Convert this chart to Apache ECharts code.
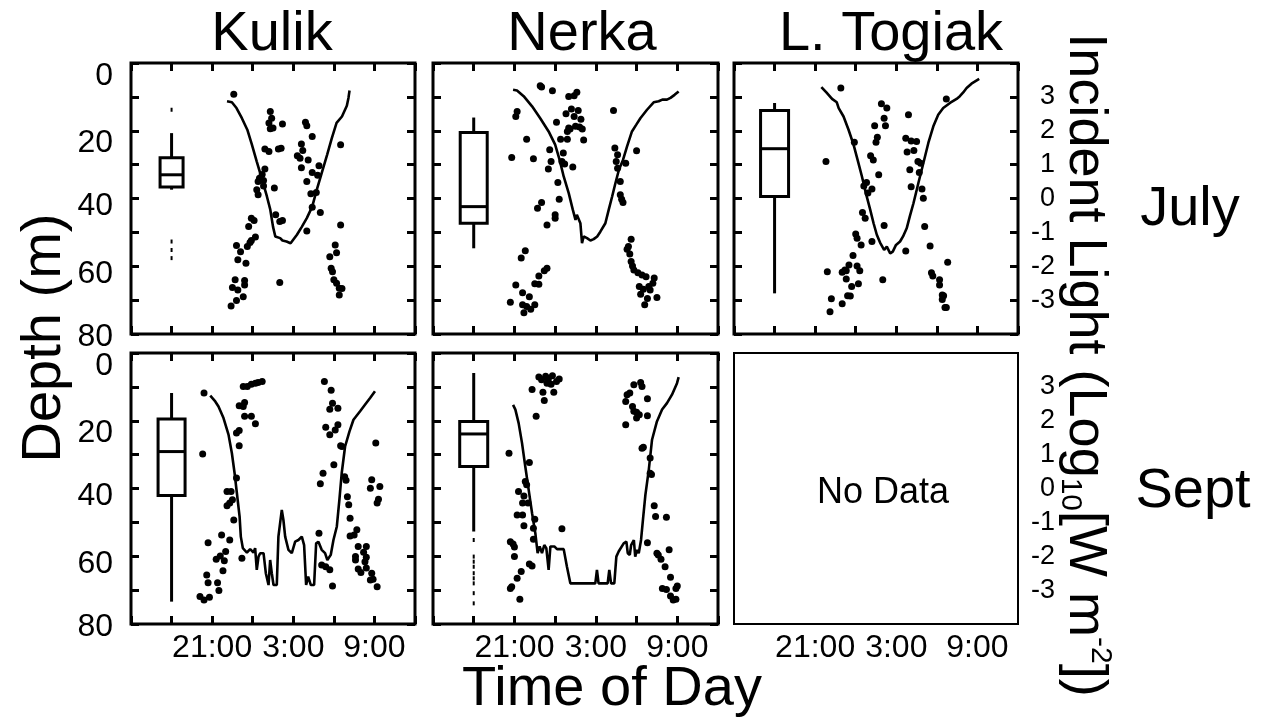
<!DOCTYPE html>
<html lang="en">
<head>
<meta charset="UTF-8">
<title>Depth and incident light</title>
<script src="https://cdn.jsdelivr.net/npm/echarts@6/dist/echarts.min.js"></script>
<style>html,body{margin:0;padding:0;background:#fff}</style>
</head>
<body>
<div id="main" style="width:1268px;height:724px;"></div>
<script type="text/javascript">
    // tick labels
    var depthTicks = [0, 20, 40, 60, 80];
    var lightTicks = [-3, -2, -1, 0, 1, 2, 3];
    var timeTicks = [21, 27, 33];
    var timeLabels = ['21:00', '3:00', '9:00'];
    var lakes = ['Kulik', 'Nerka', 'L. Togiak'];
    var months = ['July', 'Sept'];

    // fish positions: [hour of day (15 = 15:00, 27 = 3:00 next day), depth m]
    var kulikJulyFish = [[22.6,9.2],[25.3,14.3],[25.4,16.3],[25.2,17.7],[25.3,19.4],[25.5,19.2],[26.2,18.0],[27.9,17.5],[28.0,18.5],[28.4,21.7],[30.5,24.1],[24.9,25.4],[25.2,26.1],[25.9,25.4],[26.1,25.2],[27.6,23.9],[27.7,25.8],[27.3,27.4],[27.5,28.1],[28.1,28.6],[27.6,30.9],[28.9,30.3],[28.4,32.3],[28.8,33.1],[24.9,31.3],[24.7,32.9],[24.5,34.0],[24.4,35.0],[24.8,34.7],[24.8,36.3],[24.3,37.4],[24.4,38.9],[25.6,36.9],[28.0,35.0],[28.3,38.6],[28.7,38.2],[28.4,42.6],[29.0,44.1],[25.7,44.8],[26.2,46.5],[26.0,46.8],[23.9,45.8],[24.1,46.5],[23.7,48.3],[28.0,49.6],[30.5,47.8],[24.2,51.4],[23.9,52.4],[23.8,53.0],[23.6,54.2],[22.8,53.9],[23.1,55.7],[22.9,58.1],[23.5,59.1],[30.1,53.7],[30.2,56.0],[29.7,57.2],[29.8,60.6],[29.9,61.6],[22.7,64.0],[23.4,64.2],[23.4,65.5],[26.0,64.8],[22.5,66.3],[22.9,67.0],[23.3,69.0],[22.8,70.1],[22.4,71.7],[30.0,64.0],[30.2,65.0],[30.4,66.5],[30.6,66.6],[30.4,68.5]];
    var nerkaJulyFish = [[22.9,6.7],[23.0,7.1],[23.8,8.2],[25.0,9.9],[25.4,9.7],[25.6,8.6],[25.2,13.6],[24.8,15.0],[25.7,14.0],[25.4,15.8],[25.9,16.6],[25.0,19.2],[25.1,19.5],[25.5,18.7],[25.8,18.9],[26.0,19.5],[24.1,17.5],[24.9,20.2],[24.4,22.5],[24.9,22.5],[26.1,22.7],[21.2,14.3],[21.1,15.8],[21.9,22.5],[20.8,27.9],[22.4,28.3],[23.6,25.6],[23.7,29.1],[23.5,31.3],[24.6,26.6],[24.5,29.1],[24.7,29.8],[25.3,30.7],[24.2,35.3],[24.3,40.2],[23.0,41.2],[22.7,42.9],[24.0,44.8],[24.0,45.8],[23.4,47.8],[28.3,14.0],[28.4,25.1],[28.6,27.1],[28.5,29.1],[29.2,29.6],[30.0,25.9],[28.6,31.1],[28.8,35.0],[28.8,38.9],[28.9,40.2],[29.0,41.2],[29.6,52.0],[29.4,54.2],[29.3,55.0],[29.5,56.4],[29.6,58.6],[29.7,59.9],[29.8,61.1],[30.1,61.9],[30.4,62.6],[30.7,63.1],[31.3,63.5],[31.2,65.0],[30.9,66.0],[30.2,66.0],[30.5,66.8],[31.0,67.0],[30.3,68.3],[30.8,69.5],[31.5,69.2],[30.6,71.4],[21.8,55.4],[21.5,57.6],[23.4,60.6],[23.2,61.3],[22.8,62.9],[22.5,65.2],[22.8,65.3],[21.1,65.5],[21.6,67.8],[22.1,69.0],[20.7,70.6],[21.6,71.4],[21.9,71.9],[22.5,71.4],[22.2,72.7],[21.7,73.7]];
    var togiakJulyFish = [[22.9,7.4],[21.8,29.1],[23.9,23.4],[25.9,12.0],[26.3,13.3],[26.1,16.3],[26.2,18.5],[25.4,18.5],[25.6,21.9],[25.5,23.4],[25.1,27.4],[25.3,28.6],[25.7,33.0],[24.8,35.3],[24.6,36.3],[25.2,37.2],[24.9,38.4],[24.5,44.1],[24.7,45.8],[26.1,48.0],[24.0,50.5],[24.1,51.7],[24.4,53.7],[25.2,52.7],[23.8,56.8],[23.5,59.6],[23.2,61.1],[23.0,61.8],[23.3,61.3],[24.1,59.9],[24.3,61.3],[21.9,61.6],[23.3,63.8],[23.7,66.0],[24.2,65.2],[23.4,68.7],[23.6,68.8],[22.2,69.6],[23.0,71.1],[22.1,73.4],[26.0,64.0],[27.7,55.5],[27.9,15.3],[27.7,22.2],[28.1,23.0],[28.5,23.2],[27.8,26.3],[28.3,25.8],[28.6,29.1],[28.8,29.6],[28.0,31.5],[28.7,32.3],[28.1,36.5],[28.9,37.2],[29.0,39.9],[29.1,48.3],[29.5,54.0],[29.6,61.9],[29.7,62.9],[30.2,64.0],[30.2,65.5],[30.4,68.5],[30.5,68.7],[30.4,69.8],[30.6,72.2],[30.7,72.2],[30.8,58.8],[30.7,10.6]];
    var kulikSeptFish = [[20.4,11.8],[20.3,29.8],[20.1,71.9],[20.4,72.9],[20.8,72.1],[20.6,65.5],[20.7,67.8],[21.4,67.8],[21.5,70.1],[21.8,64.3],[21.3,60.9],[21.6,59.9],[21.9,61.3],[22.0,58.6],[21.7,53.7],[22.3,55.2],[20.7,56.0],[22.6,49.3],[22.1,40.9],[22.4,40.9],[22.1,45.1],[22.3,44.3],[22.5,43.3],[22.8,36.9],[22.8,23.6],[23.0,22.9],[23.0,27.4],[23.0,15.6],[23.3,15.8],[23.4,14.6],[23.4,18.7],[23.9,18.7],[24.2,20.9],[23.3,9.9],[23.6,9.9],[23.9,9.2],[24.2,8.9],[24.4,8.7],[24.7,8.4],[23.2,60.6],[29.3,8.4],[29.8,11.0],[29.9,14.8],[29.7,16.6],[30.3,16.3],[29.4,21.9],[30.3,21.2],[30.1,22.7],[29.7,24.1],[30.5,27.4],[30.6,27.6],[30.0,33.0],[29.2,35.5],[29.0,38.6],[30.8,36.5],[30.9,37.6],[31.0,42.4],[31.1,44.8],[31.2,48.8],[28.9,53.2],[31.7,52.2],[31.5,53.7],[31.2,54.0],[29.1,62.6],[29.4,63.1],[29.7,64.0],[29.9,68.8],[31.8,57.1],[32.4,57.1],[32.2,58.8],[31.6,60.1],[31.6,61.1],[32.4,60.3],[32.3,61.6],[31.8,63.8],[32.0,64.8],[32.4,63.5],[32.8,65.0],[32.9,66.8],[33.2,69.0],[32.7,67.0],[33.1,26.6],[32.8,37.4],[32.7,39.9],[33.4,39.4],[33.3,43.2],[33.2,44.3]];
    var nerkaSeptFish = [[20.6,29.6],[20.7,55.7],[20.9,56.4],[21.0,57.3],[21.0,60.1],[20.7,69.5],[20.8,69.0],[21.2,66.5],[21.5,64.5],[21.4,72.7],[22.1,62.3],[22.3,62.9],[21.3,40.9],[21.7,42.2],[21.6,44.3],[22.0,44.3],[21.8,37.9],[21.9,38.9],[21.2,47.8],[21.6,47.8],[21.7,51.0],[22.1,32.3],[22.5,49.1],[22.4,51.7],[22.4,55.0],[22.6,18.7],[22.3,10.8],[22.8,7.1],[23.0,7.9],[23.3,6.9],[23.5,7.7],[23.8,6.7],[23.4,8.9],[23.7,9.2],[24.1,8.4],[24.3,7.7],[23.1,11.6],[23.2,14.0],[23.9,11.6],[24.5,51.9],[29.3,12.3],[29.5,11.8],[29.2,14.3],[29.7,15.8],[29.8,17.2],[30.0,17.5],[30.2,18.2],[30.0,19.2],[30.3,8.7],[30.4,9.9],[29.8,9.4],[30.8,13.5],[30.8,18.5],[29.2,21.2],[30.4,28.1],[30.5,27.8],[31.0,31.0],[31.0,35.5],[31.1,35.9],[31.3,45.1],[31.4,48.3],[32.2,48.5],[30.8,56.0],[31.5,59.1],[31.6,59.6],[32.4,58.1],[31.8,60.9],[32.1,63.1],[32.5,66.2],[31.9,69.5],[32.2,69.8],[33.0,68.8],[32.9,69.5],[32.5,71.7],[32.7,72.9],[32.9,72.7]];

    // incident light: [hour, log10 W m-2]
    var kulikJulyLight = [[22.1,2.87],[22.46,2.84],[22.8,2.67],[23.2,2.37],[23.6,2.03],[23.94,1.59],[24.3,1.09],[24.7,0.55],[25.05,0.06],[25.3,-0.33],[25.5,-0.83],[25.67,-1.12],[26.03,-1.17],[26.2,-1.24],[26.5,-1.27],[26.8,-1.32],[26.9,-1.27],[27.27,-1.07],[27.64,-0.83],[28.0,-0.58],[28.4,-0.24],[28.74,0.26],[29.1,0.75],[29.5,1.29],[29.85,1.78],[30.2,2.23],[30.6,2.42],[30.96,2.74],[31.08,2.97],[31.16,3.19]];
    var nerkaJulyLight = [[20.9,3.21],[21.19,3.19],[21.68,3.02],[22.3,2.72],[22.9,2.37],[23.52,1.98],[24.0,1.59],[24.33,1.14],[24.63,0.65],[25.0,0.16],[25.3,-0.33],[25.5,-0.63],[25.6,-0.48],[25.73,-0.43],[25.86,-0.73],[25.98,-1.32],[26.1,-1.12],[26.35,-1.17],[26.6,-1.24],[26.84,-1.2],[27.1,-1.12],[27.33,-0.98],[27.7,-0.73],[27.95,-0.33],[28.2,0.06],[28.44,0.45],[28.7,0.85],[29.0,1.14],[29.3,1.54],[29.66,1.98],[29.98,2.18],[30.28,2.37],[30.77,2.62],[31.26,2.84],[31.63,2.87],[31.9,2.92],[32.24,2.92],[32.5,2.97],[32.8,3.06],[33.1,3.16]];
    var togiakJulyLight = [[21.46,3.29],[21.83,3.13],[22.25,2.94],[22.6,2.84],[22.74,2.67],[23.1,2.42],[23.47,2.03],[23.84,1.59],[24.14,1.14],[24.46,0.65],[24.75,0.16],[25.07,-0.33],[25.32,-0.73],[25.56,-1.07],[25.8,-1.3],[26.1,-1.52],[26.3,-1.42],[26.55,-1.62],[26.74,-1.57],[26.98,-1.37],[27.28,-1.27],[27.5,-1.12],[27.77,-0.88],[28.0,-0.53],[28.27,-0.14],[28.63,0.45],[29.0,1.04],[29.37,1.64],[29.74,2.13],[30.1,2.47],[30.47,2.67],[30.97,2.82],[31.46,2.94],[31.7,3.02],[31.95,3.13],[32.2,3.26],[32.56,3.39],[33.13,3.53]];
    var kulikSeptLight = [[20.86,2.74],[21.23,2.57],[21.47,2.42],[21.84,2.08],[22.21,1.59],[22.46,1.04],[22.66,0.45],[22.83,-0.14],[23.03,-0.83],[23.12,-1.42],[23.27,-1.76],[23.57,-1.89],[23.81,-1.79],[24.06,-1.89],[24.18,-1.76],[24.3,-2.4],[24.43,-2.01],[24.55,-1.91],[24.8,-1.91],[24.97,-2.5],[25.17,-2.85],[25.29,-2.11],[25.41,-2.5],[25.54,-2.85],[25.78,-2.85],[25.9,-1.42],[26.03,-1.37],[26.15,-0.63],[26.27,-0.93],[26.4,-1.42],[26.64,-1.81],[26.89,-1.91],[27.14,-1.57],[27.38,-1.52],[27.63,-1.42],[27.8,-1.67],[27.95,-2.85],[28.1,-2.6],[28.3,-2.85],[28.54,-2.85],[28.69,-1.62],[28.86,-1.57],[29.1,-1.81],[29.35,-1.91],[29.52,-2.11],[29.77,-1.96],[29.97,-1.52],[30.22,-1.12],[30.41,-0.33],[30.58,0.45],[30.83,1.24],[31.15,1.68],[31.45,2.03],[31.94,2.28],[32.3,2.47],[32.68,2.67],[33.04,2.87]];
    var nerkaSeptLight = [[20.9,2.47],[21.07,2.33],[21.31,1.93],[21.56,1.34],[21.8,0.65],[22.05,-0.04],[22.3,-0.73],[22.54,-1.32],[22.71,-1.91],[22.86,-1.71],[23.03,-1.91],[23.2,-1.67],[23.35,-1.76],[23.52,-2.4],[23.65,-1.71],[23.77,-1.76],[23.94,-1.71],[24.14,-1.79],[24.38,-1.79],[24.63,-1.79],[24.87,-2.31],[25.12,-2.8],[26.96,-2.8],[27.08,-2.4],[27.2,-2.8],[27.87,-2.8],[27.99,-2.4],[28.12,-2.8],[28.36,-2.8],[28.51,-2.01],[28.68,-1.86],[28.8,-1.91],[29.05,-1.62],[29.25,-1.57],[29.35,-1.91],[29.5,-1.96],[29.6,-1.67],[29.8,-1.52],[29.9,-2.01],[30.03,-1.81],[30.16,-1.91],[30.33,-1.52],[30.48,-0.88],[30.65,-0.19],[30.9,0.55],[31.14,1.44],[31.5,1.98],[31.88,2.33],[32.24,2.52],[32.61,2.77],[32.98,3.11],[33.1,3.29]];

    // depth box plots: [hour, min, Q1, median, Q3, max]
    var kulikJulyBox = [18, 20.7, 28.0, 33.0, 36.6, 37.4];
    var nerkaJulyBox = [18, 16.1, 20.5, 42.4, 47.3, 54.7];
    var togiakJulyBox = [18, 11.8, 14.0, 25.3, 39.4, 68.0];
    var kulikSeptBox = [18, 11.8, 19.5, 29.1, 42.1, 73.4];
    var nerkaSeptBox = [18, 5.9, 20.2, 23.9, 33.5, 52.7];
    // box plot outliers
    var kulikJulyOut = [[18,13.8],[18,52.7],[18,55.2],[18,57.6]];
    var nerkaSeptOut = [[18,55.2],[18,60.1],[18,61.6],[18,63.1],[18,65.0],[18,66.5],[18,68.0],[18,70.9],[18,73.9]];

    var panels = [
        {fish: kulikJulyFish, light: kulikJulyLight, box: kulikJulyBox, out: kulikJulyOut},
        {fish: nerkaJulyFish, light: nerkaJulyLight, box: nerkaJulyBox, out: []},
        {fish: togiakJulyFish, light: togiakJulyLight, box: togiakJulyBox, out: []},
        {fish: kulikSeptFish, light: kulikSeptLight, box: kulikSeptBox, out: []},
        {fish: nerkaSeptFish, light: nerkaSeptLight, box: nerkaSeptBox, out: nerkaSeptOut},
        null
    ];

    var FONT = '"Liberation Sans", Arial, sans-serif';
    var gridRects = [[131,63,284,271],[433,63,285,271],[734,63,284,271],
                     [131,353,284,271],[433,353,285,271],[734,353,284,271]];
    var boxWidths = [23, 27, 28, 27, 28];
    var depthShift = [26, 24, 16, 16, 6];

    function fmtTime(v) {
        var k = timeTicks.indexOf(v);
        return k < 0 ? '' : timeLabels[k];
    }
    function fmtDepth(v) {
        var k = depthTicks.indexOf(v);
        return k < 0 ? '' : '{d' + k + '|' + v + '}';
    }
    function fmtLight(v) {
        return lightTicks.indexOf(v) < 0 ? '' : String(v);
    }
    var depthRich = {};
    depthShift.forEach(function (p, k) {
        depthRich['d' + k] = {fontSize: 32, fontFamily: FONT, color: '#000', padding: [p, 0, 0, 0]};
    });

    function boxRenderer(w) {
        return function (params, api) {
            var x = api.value(0);
            var lo = api.coord([x, api.value(1)]);
            var q1 = api.coord([x, api.value(2)]);
            var md = api.coord([x, api.value(3)]);
            var q3 = api.coord([x, api.value(4)]);
            var hi = api.coord([x, api.value(5)]);
            var cx = lo[0], hw = w / 2;
            var st = {stroke: '#000', lineWidth: 3};
            return {type: 'group', children: [
                {type: 'line', shape: {x1: cx, y1: lo[1], x2: cx, y2: q1[1]}, style: st},
                {type: 'line', shape: {x1: cx, y1: q3[1], x2: cx, y2: hi[1]}, style: st},
                {type: 'rect', shape: {x: cx - hw, y: Math.min(q1[1], q3[1]), width: w, height: Math.abs(q3[1] - q1[1])},
                    style: {stroke: '#000', lineWidth: 3, fill: '#fff'}},
                {type: 'line', shape: {x1: cx - hw, y1: md[1], x2: cx + hw, y2: md[1]}, style: st}
            ]};
        };
    }

    var grids = [], xAxes = [], yAxes = [], series = [];
    gridRects.forEach(function (r, i) {
        var col = i % 3, row = Math.floor(i / 3);
        var p = panels[i];
        grids.push({left: r[0], top: r[1], width: r[2], height: r[3], show: true,
            borderColor: '#000', borderWidth: p ? 3 : 2, backgroundColor: 'transparent',
            containLabel: false, outerBoundsMode: 'none'});
        var tick = {show: !!p, inside: true, length: 8, lineStyle: {color: '#000', width: 3}};
        xAxes.push({gridIndex: i, type: 'value', position: 'bottom', min: 15, max: 36, interval: 3,
            axisLine: {show: false, onZero: false}, axisTick: tick, splitLine: {show: false},
            axisLabel: {show: row === 1, margin: 8, fontSize: 32, fontFamily: FONT, color: '#000',
                formatter: fmtTime, showMinLabel: true, showMaxLabel: true}});
        xAxes.push({gridIndex: i, type: 'value', position: 'top', min: 15, max: 36, interval: 3,
            axisLine: {show: false, onZero: false}, axisTick: tick, splitLine: {show: false},
            axisLabel: {show: false}});
        yAxes.push({gridIndex: i, type: 'value', position: 'left', inverse: true, min: 0, max: 80, interval: 10,
            axisLine: {show: false, onZero: false}, axisTick: tick, splitLine: {show: false},
            axisLabel: {show: col === 0, margin: 18, fontSize: 32, fontFamily: FONT, color: '#000',
                formatter: fmtDepth, rich: depthRich, showMinLabel: true, showMaxLabel: true}});
        yAxes.push({gridIndex: i, type: 'value', position: 'right', min: -4, max: 4, interval: 1,
            axisLine: {show: false, onZero: false}, axisTick: tick, splitLine: {show: false},
            axisLabel: {show: col === 2, margin: 37, align: 'right', fontSize: 27, fontFamily: FONT,
                color: '#000', formatter: fmtLight}});
        if (!p) return;
        series.push({type: 'custom', xAxisIndex: 2 * i, yAxisIndex: 2 * i, clip: false,
            renderItem: boxRenderer(boxWidths[i]), encode: {x: 0, y: [1, 2, 3, 4, 5]}, data: [p.box], z: 2});
        series.push({type: 'scatter', xAxisIndex: 2 * i, yAxisIndex: 2 * i, data: p.out,
            symbol: 'rect', symbolSize: [2, 4], itemStyle: {color: '#000', opacity: 1}, z: 3});
        series.push({type: 'line', xAxisIndex: 2 * i, yAxisIndex: 2 * i + 1, data: p.light,
            showSymbol: false, lineStyle: {color: '#000', width: 2.6}, z: 3});
        series.push({type: 'scatter', xAxisIndex: 2 * i, yAxisIndex: 2 * i, data: p.fish,
            symbolSize: 7, itemStyle: {color: '#000', opacity: 1}, z: 4});
    });

    function txt(x, y, s, size, rot) {
        return {type: 'text', x: x, y: y, rotation: rot || 0,
            style: {text: s, fontSize: size, fontFamily: FONT, fill: '#000', align: 'center', verticalAlign: 'middle'}};
    }
    var graphics = [
        txt(272, 35, lakes[0], 56), txt(582, 35, lakes[1], 56), txt(891, 35, lakes[2], 56),
        txt(1190, 210, months[0], 56), txt(1193, 492, months[1], 56),
        txt(45, 338, 'Depth (m)', 56, Math.PI / 2),
        txt(612, 690, 'Time of Day', 56),
        txt(883, 493, 'No Data', 36),
        {type: 'text', x: 1085, y: 365, rotation: -Math.PI / 2,
            style: {text: '{a|Incident Light (Log}{b|10}{a|[W m}{c|-2}{a|])}', align: 'center', verticalAlign: 'middle',
                rich: {
                    a: {fontSize: 54, fontFamily: FONT, fill: '#000', lineHeight: 60},
                    b: {fontSize: 30, fontFamily: FONT, fill: '#000', lineHeight: 30, verticalAlign: 'bottom'},
                    c: {fontSize: 30, fontFamily: FONT, fill: '#000', lineHeight: 30, verticalAlign: 'top'}
                }}}
    ];

    var chart = echarts.init(document.getElementById('main'), null, {renderer: 'canvas'});
    chart.setOption({
        animation: false,
        backgroundColor: '#fff',
        grid: grids,
        xAxis: xAxes,
        yAxis: yAxes,
        series: series,
        graphic: graphics
    });
</script>
</body>
</html>
